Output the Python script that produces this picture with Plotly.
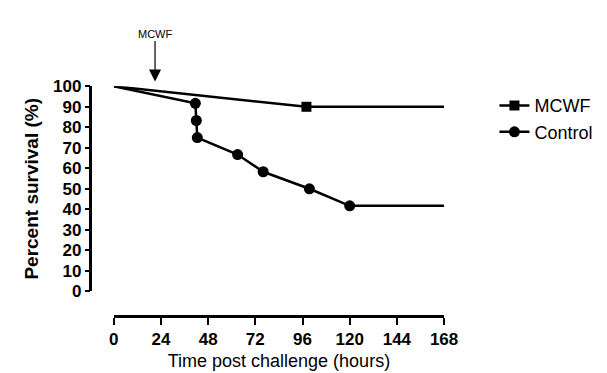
import plotly.graph_objects as go

# ---- data ----
mcwf_hours = [0, 98, 168]
mcwf_pct = [100, 90, 90]
control_hours = [0, 41.5, 42, 42.5, 63, 76, 99.5, 120, 168]
control_pct = [100, 91.7, 83.3, 75, 66.7, 58.3, 50, 41.7, 41.7]
x_ticks = [0, 24, 48, 72, 96, 120, 144, 168]
y_ticks = [0, 10, 20, 30, 40, 50, 60, 70, 80, 90, 100]
treatment_time = 21

W, H = 607, 373
FONT = "Arial, Liberation Sans, sans-serif"

def px_x(p):
    return p / W

def px_y(p):
    return (H - p) / H

fig = go.Figure()

# lines
fig.add_trace(go.Scatter(x=mcwf_hours, y=mcwf_pct, mode="lines",
                         line=dict(color="black", width=2.5), showlegend=False,
                         cliponaxis=False, hoverinfo="skip"))
fig.add_trace(go.Scatter(x=control_hours, y=control_pct, mode="lines",
                         line=dict(color="black", width=2.5), showlegend=False,
                         cliponaxis=False, hoverinfo="skip"))
# markers (interior points only)
fig.add_trace(go.Scatter(x=mcwf_hours[1:-1], y=mcwf_pct[1:-1], mode="markers",
                         marker=dict(symbol="square", size=10, color="black"),
                         showlegend=False, cliponaxis=False))
fig.add_trace(go.Scatter(x=control_hours[1:-1], y=control_pct[1:-1], mode="markers",
                         marker=dict(symbol="circle", size=11, color="black"),
                         showlegend=False, cliponaxis=False))
# legend entries
fig.add_trace(go.Scatter(x=[None], y=[None], mode="lines+markers", name="MCWF",
                         line=dict(color="black", width=2.5),
                         marker=dict(symbol="square", size=10, color="black")))
fig.add_trace(go.Scatter(x=[None], y=[None], mode="lines+markers", name="Control",
                         line=dict(color="black", width=2.5),
                         marker=dict(symbol="circle", size=11, color="black")))

fig.add_annotation(x=treatment_time, y=px_y(68), xref="x", yref="paper",
                   text="MCWF", showarrow=True, ax=0, ay=-48,
                   arrowhead=2, arrowsize=2, arrowwidth=1.2, arrowcolor="black",
                   font=dict(family=FONT, size=11, color="black"))

fig.update_layout(
    width=W, height=H,
    margin=dict(l=0, r=0, t=0, b=0),
    paper_bgcolor="white", plot_bgcolor="white",
    font=dict(family=FONT, color="black"),
    xaxis=dict(
        domain=[px_x(104), px_x(445)], range=[0, 168],
        tickvals=x_ticks, ticks="outside", ticklen=7, tickwidth=2, tickcolor="black",
        showline=True, linecolor="black", linewidth=2.5,
        showgrid=False, zeroline=False,
        anchor="free", position=px_y(315),
        tickfont=dict(family=FONT, size=17, color="black", weight="bold"),
        title=dict(text="Time post challenge (hours)", standoff=6,
                   font=dict(family=FONT, size=18, color="black")),
    ),
    yaxis=dict(
        domain=[px_y(289), px_y(73)], range=[0, 100],
        tickvals=y_ticks, ticks="outside", ticklen=5, tickwidth=2, tickcolor="black",
        showline=True, linecolor="black", linewidth=2.5,
        showgrid=False, zeroline=False,
        anchor="free", position=px_x(80),
        tickfont=dict(family=FONT, size=17, color="black", weight="bold"),
        title=dict(text="Percent survival (%)", standoff=8,
                   font=dict(family=FONT, size=19, color="black", weight="bold")),
    ),
    legend=dict(x=px_x(497), y=px_y(74), xanchor="left", yanchor="top",
                font=dict(family=FONT, size=18, color="black"),
                bgcolor="rgba(0,0,0,0)", tracegroupgap=0, itemwidth=30),
)

fig.write_html("out.html")
